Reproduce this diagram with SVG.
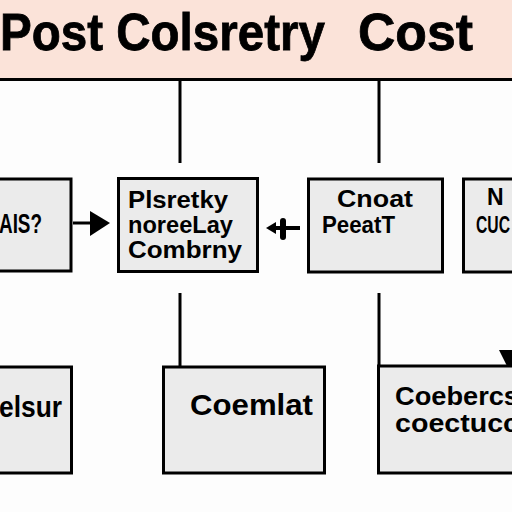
<svg xmlns="http://www.w3.org/2000/svg" width="512" height="512" viewBox="0 0 512 512">
<style>
.box{fill:#ebebeb;stroke:#000;stroke-width:3}
.ln{stroke:#000;stroke-width:3;fill:none}
.t{font-family:"Liberation Sans",Arial,sans-serif;font-weight:bold;fill:#000}
.title{font-family:"Liberation Sans",Arial,sans-serif;font-weight:bold;font-size:52px;fill:#000;stroke:#000;stroke-width:0.8}
</style>
<rect x="0" y="0" width="512" height="512" fill="#fdfdfd"/>
<g id="header">
<rect x="0" y="0" width="512" height="79" fill="#fbe3d9"/>
<line x1="0" y1="79.5" x2="512" y2="79.5" class="ln"/>
<text class="title" x="0" y="50" textLength="325" lengthAdjust="spacingAndGlyphs">Post Colsretry</text>
<text class="title" x="358" y="50" textLength="115" lengthAdjust="spacingAndGlyphs">Cost</text>
</g>
<g id="connectors">
<line x1="180" y1="80" x2="180" y2="163" class="ln"/>
<line x1="379" y1="80" x2="379" y2="163" class="ln"/>
<line x1="73" y1="223" x2="92" y2="223" class="ln"/>
<polygon points="90,211 110,223 90,236" fill="#000"/>
<line x1="270" y1="228" x2="300" y2="228" stroke="#000" stroke-width="4"/>
<polygon points="266,228 276,222 276,234" fill="#000"/>
<rect x="280" y="218" width="6" height="22" rx="3" fill="#000"/>
<line x1="180" y1="293" x2="180" y2="367" class="ln"/>
<line x1="379" y1="293" x2="379" y2="366" class="ln"/>
<polygon points="499,350 512,350 512,366 507,366" fill="#000"/>
</g>
<g id="node-a">
<rect class="box" x="-5" y="179" width="76" height="92"/>
<text class="t" x="-1" y="233" font-size="27" textLength="43" lengthAdjust="spacingAndGlyphs">AIS?</text>
</g>
<g id="node-b">
<rect class="box" x="118.5" y="178.5" width="139" height="93"/>
<text class="t" x="128" y="208" font-size="23" textLength="100" lengthAdjust="spacingAndGlyphs">Plsretky</text>
<text class="t" x="128" y="233" font-size="23" textLength="105" lengthAdjust="spacingAndGlyphs">noreeLay</text>
<text class="t" x="128" y="258" font-size="23" textLength="114" lengthAdjust="spacingAndGlyphs">Combrny</text>
</g>
<g id="node-c">
<rect class="box" x="308.5" y="179" width="134" height="93"/>
<text class="t" x="337" y="207" font-size="23" textLength="76" lengthAdjust="spacingAndGlyphs">Cnoat</text>
<text class="t" x="322" y="233" font-size="23" textLength="73" lengthAdjust="spacingAndGlyphs">PeeatT</text>
</g>
<g id="node-d">
<rect class="box" x="463.5" y="179" width="60" height="93"/>
<text class="t" x="487" y="205" font-size="23">N</text>
<text class="t" x="476" y="233" font-size="23" textLength="34" lengthAdjust="spacingAndGlyphs">CUC</text>
</g>
<g id="node-e">
<rect class="box" x="-5" y="367" width="76.5" height="106"/>
<text class="t" x="-1" y="417" font-size="29" textLength="63" lengthAdjust="spacingAndGlyphs">elsur</text>
</g>
<g id="node-f">
<rect class="box" x="163.5" y="367" width="161" height="106"/>
<text class="t" x="190" y="415" font-size="30" textLength="123" lengthAdjust="spacingAndGlyphs">Coemlat</text>
</g>
<g id="node-g">
<rect class="box" x="378.5" y="366" width="145" height="107"/>
<text class="t" x="395" y="405" font-size="25" textLength="124" lengthAdjust="spacingAndGlyphs">Coebercs</text>
<text class="t" x="395" y="432" font-size="25" textLength="124" lengthAdjust="spacingAndGlyphs">coectucc</text>
</g>
</svg>
